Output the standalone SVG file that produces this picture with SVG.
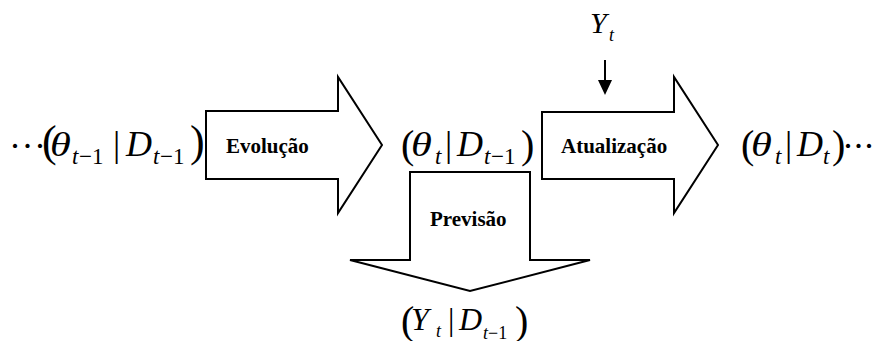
<svg xmlns="http://www.w3.org/2000/svg" width="875" height="341" viewBox="0 0 875 341">
<style>
.shape{fill:#fff;stroke:#000;stroke-width:2;stroke-linejoin:miter}
.lbl{font-family:"Liberation Serif","Times New Roman",serif;font-weight:bold;font-size:21px;fill:#000}
.m{font-family:"Liberation Serif","Times New Roman",serif;font-size:36px;fill:#000}
.th{font-family:"Liberation Serif","Times New Roman",serif;font-size:34px;font-style:italic;fill:#000}
.i{font-style:italic}
.p{font-size:40px}
.pl{font-size:44px}
.d{font-size:36px}
.s{font-size:23px}
.ss{font-size:18px}
.y{font-size:32px}
</style>
<rect width="875" height="341" fill="#fff"/>
<g id="evolucao">
<polygon class="shape" points="206,111 338,111 338,77 382,145 338,213 338,179 206,179"/>
<text class="lbl" x="226" y="153">Evolução</text>
</g>
<g id="atualizacao">
<polygon class="shape" points="542,112 674,112 674,77 718,145 674,213 674,179 542,179"/>
<text class="lbl" x="561" y="153">Atualização</text>
</g>
<g id="previsao">
<polygon class="shape" points="410,172 530,172 530,260 590,260 470,291 350,260 410,260"/>
<text class="lbl" x="430" y="226">Previsão</text>
</g>
<g id="estado-anterior">
<text class="m"><tspan class="d" x="9 21.5 34" y="158">···</tspan><tspan class="pl" x="42" y="156">(</tspan><tspan class="i s" x="72" y="164">t</tspan><tspan class="s" x="79" y="164">−1</tspan><tspan x="113" y="156">|</tspan><tspan class="i" x="126" y="156">D</tspan><tspan class="i s" x="153" y="164">t</tspan><tspan class="s" x="160" y="164">−1</tspan><tspan class="pl" x="190" y="156">)</tspan></text>
<text class="th" transform="translate(50,156) scale(1.25,1)">θ</text>
</g>
<g id="estado-previsto">
<text class="m"><tspan class="p" x="401" y="158">(</tspan><tspan class="i s" x="435" y="164">t</tspan><tspan x="445" y="156">|</tspan><tspan class="i" x="457" y="156">D</tspan><tspan class="i s" x="484" y="164">t</tspan><tspan class="s" x="491" y="164">−1</tspan><tspan class="p" x="521" y="158">)</tspan></text>
<text class="th" transform="translate(411,156) scale(1.25,1)">θ</text>
</g>
<g id="estado-atualizado">
<text class="m"><tspan class="p" x="741" y="158">(</tspan><tspan class="i s" x="775" y="164">t</tspan><tspan x="785" y="156">|</tspan><tspan class="i" x="797" y="156">D</tspan><tspan class="i s" x="823" y="164">t</tspan><tspan class="p" x="832" y="158">)</tspan><tspan class="d" x="842 852.5 863" y="158">···</tspan></text>
<text class="th" transform="translate(751,156) scale(1.25,1)">θ</text>
</g>
<g id="previsao-y">
<text class="m"><tspan class="p" x="401" y="334">(</tspan><tspan class="i y" x="411" y="330">Y</tspan><tspan class="i ss" x="436" y="337">t</tspan><tspan class="y" x="448" y="330">|</tspan><tspan class="i y" x="459" y="330">D</tspan><tspan class="i ss" x="483" y="339">t</tspan><tspan class="ss" x="488" y="339">−1</tspan><tspan class="p" x="515" y="334">)</tspan></text>
</g>
<g id="observacao">
<text class="m"><tspan class="i" x="590" y="33" style="font-size:30px">Y</tspan><tspan class="i ss" x="609" y="41">t</tspan></text>
</g>
<g id="connectors">
<line x1="605" y1="60" x2="605" y2="82" stroke="#000" stroke-width="2"/>
<polygon points="598,80 612,80 605,95" fill="#000"/>
</g>
</svg>
